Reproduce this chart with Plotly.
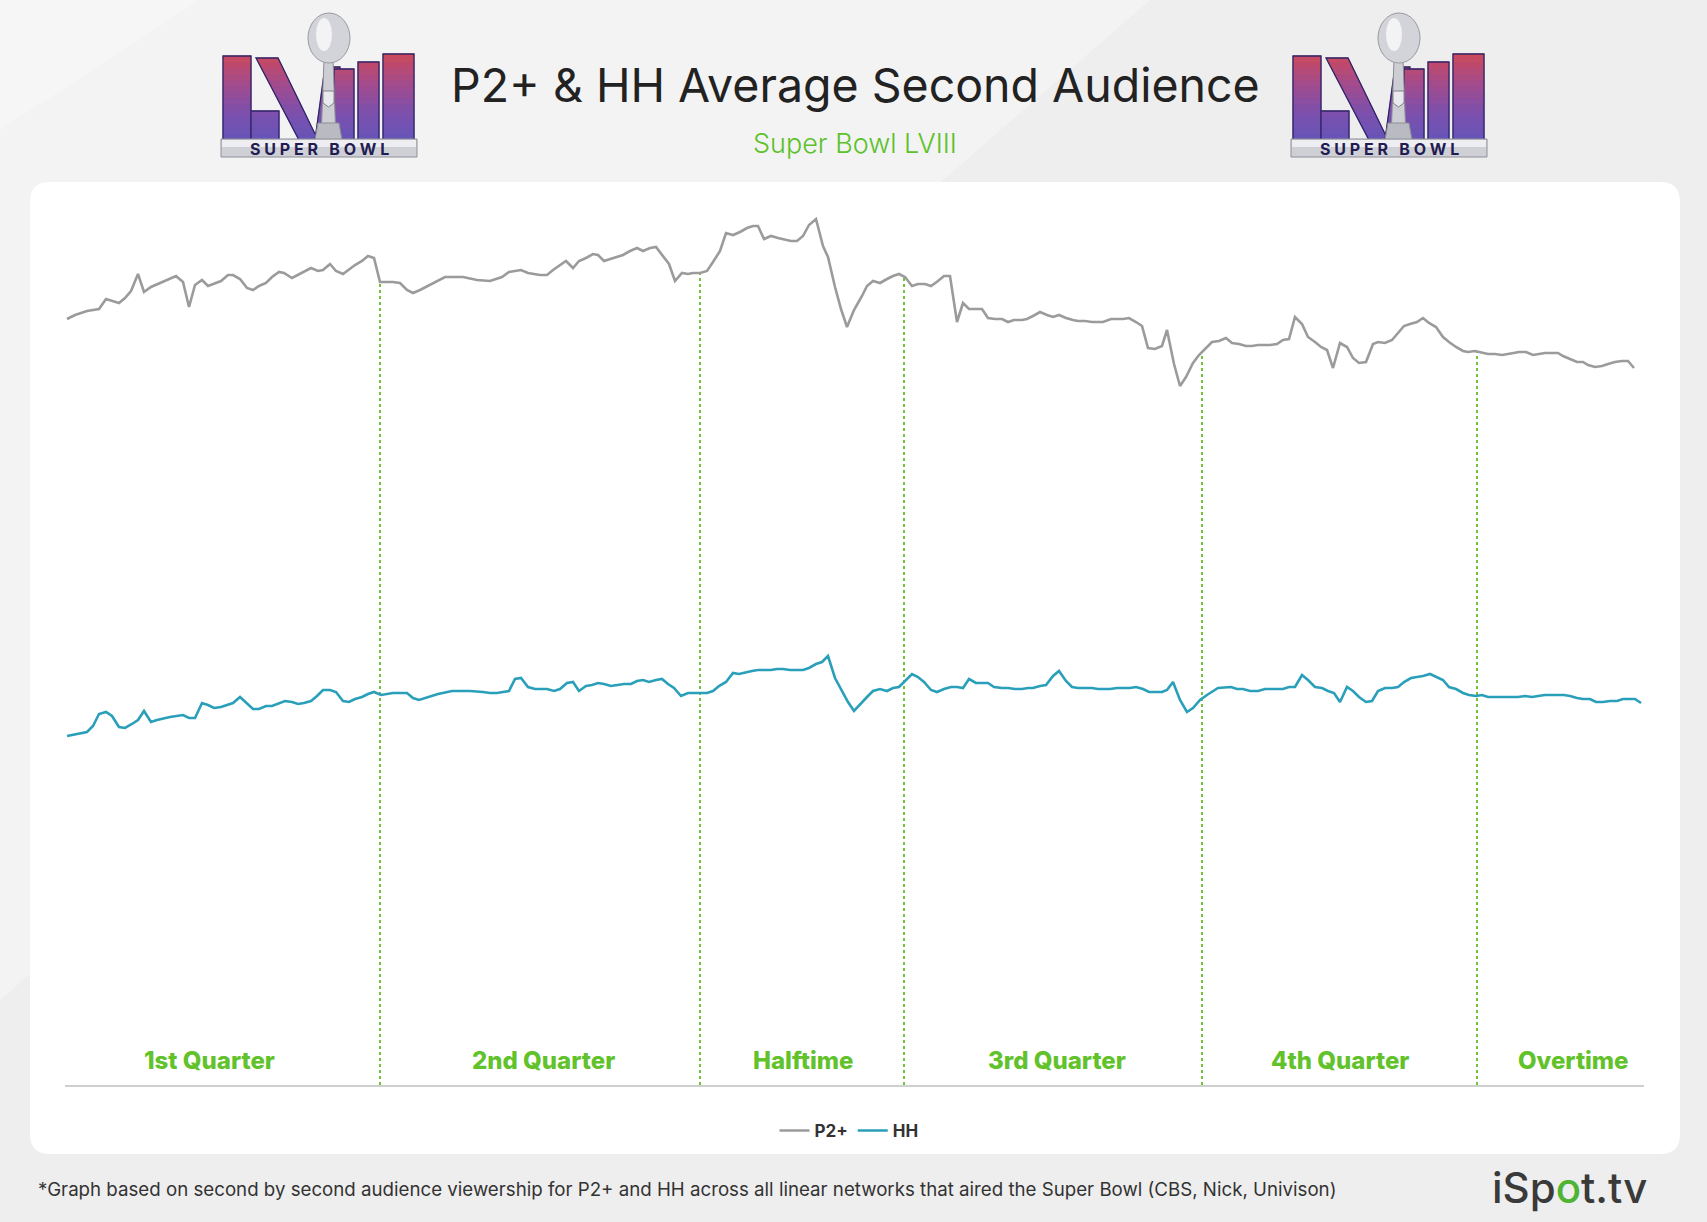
import numpy as np
import plotly.graph_objects as go

W, H = 1707, 1222

# ---------------- data (minutes of broadcast, audience in millions) ----------------
p2_time = [
    0.2, 1.0, 2.2, 3.4, 4.1, 4.8, 5.4, 6.0, 6.6, 7.3,
    7.9, 8.6, 9.7, 10.5, 11.1, 11.8, 12.4, 13.0, 13.7, 14.3,
    15.6, 16.3, 16.8, 17.5, 18.2, 18.8, 19.4, 20.1, 20.7, 21.4,
    21.9, 22.7, 23.3, 24.6, 25.3, 25.8, 26.5, 27.1, 27.8, 28.3,
    29.0, 29.7, 30.3, 30.9, 31.5, 32.8, 33.5, 34.2, 34.8, 35.5,
    36.7, 38.0, 39.8, 41.2, 42.5, 43.7, 44.4, 45.6, 46.3, 47.5,
    48.2, 48.8, 50.1, 50.8, 51.4, 52.1, 52.8, 53.3, 53.9, 55.2,
    55.8, 56.5, 57.2, 57.8, 58.5, 59.1, 59.8, 60.4, 61.0, 61.7,
    62.3, 62.8, 63.5, 64.2, 64.8, 65.5, 66.1, 66.8, 67.5, 68.2,
    68.8, 69.3, 69.9, 70.6, 71.3, 72.0, 72.6, 73.2, 73.8, 74.4,
    75.1, 75.8, 76.3, 77.0, 77.6, 78.2, 78.9, 79.7, 80.2, 80.8,
    81.5, 82.2, 82.8, 83.4, 84.0, 84.7, 85.3, 86.0, 86.6, 87.3,
    87.9, 88.5, 89.2, 89.8, 90.4, 91.7, 92.3, 93.0, 93.7, 94.3,
    94.9, 95.7, 96.2, 96.8, 97.5, 98.2, 98.8, 99.4, 100.1, 100.8,
    101.3, 102.0, 102.7, 103.8, 104.6, 105.8, 106.4, 107.1, 107.7, 108.3,
    109.0, 109.7, 110.2, 110.9, 111.5, 112.1, 112.8, 113.4, 114.1, 114.7,
    115.4, 116.1, 116.7, 117.4, 118.1, 118.7, 119.3, 120.5, 121.2, 121.8,
    122.4, 123.0, 123.7, 124.3, 125.0, 125.6, 126.2, 126.8, 127.5, 128.2,
    128.8, 129.4, 130.1, 130.8, 131.3, 132.0, 132.7, 133.3, 133.9, 134.5,
    135.2, 135.8, 136.4, 137.1, 137.8, 138.4, 139.1, 139.8, 140.3, 141.0,
    141.7, 142.3, 143.0, 143.7, 144.3, 145.4, 146.1, 146.8, 148.0, 149.3,
    149.8, 150.5, 151.2, 151.8, 152.3, 153.0, 153.7, 154.3, 155.0, 155.7, 156.3, 156.9,
]
p2_audience = [
    76.6, 77.0, 77.4, 77.6, 78.6, 78.4, 78.2, 78.7, 79.4, 81.1,
    79.3, 79.8, 80.3, 80.7, 80.9, 80.3, 77.8, 80.0, 80.5, 79.9,
    80.4, 81.0, 81.0, 80.6, 79.7, 79.5, 79.9, 80.2, 80.8, 81.3,
    81.2, 80.7, 81.0, 81.7, 81.4, 81.5, 82.1, 81.4, 81.1, 81.5,
    82.0, 82.4, 82.9, 82.7, 80.3, 80.3, 80.2, 79.5, 79.2, 79.5,
    80.1, 80.8, 80.8, 80.5, 80.4, 80.8, 81.3, 81.5, 81.2, 81.0,
    81.0, 81.5, 82.4, 81.7, 82.4, 82.7, 83.1, 83.0, 82.4, 82.8,
    83.0, 83.4, 83.7, 83.4, 83.7, 83.8, 82.9, 82.1, 80.4, 81.2,
    81.1, 81.2, 81.2, 81.4, 82.3, 83.4, 85.2, 85.0, 85.3, 85.7,
    85.9, 85.9, 84.6, 84.9, 84.7, 84.5, 84.4, 84.4, 84.9, 86.0,
    86.6, 83.9, 82.8, 79.8, 77.6, 75.8, 77.5, 78.9, 79.9, 80.4,
    80.2, 80.6, 80.9, 81.1, 80.8, 79.9, 80.1, 80.1, 79.9, 80.4,
    80.9, 80.9, 76.3, 78.2, 77.6, 77.6, 76.7, 76.6, 76.6, 76.3,
    76.5, 76.5, 76.6, 76.9, 77.3, 77.0, 76.8, 77.0, 76.7, 76.5,
    76.4, 76.4, 76.3, 76.3, 76.6, 76.6, 76.7, 76.3, 75.9, 73.7,
    73.6, 73.9, 75.5, 72.1, 69.9, 70.8, 72.2, 73.0, 73.7, 74.3,
    74.4, 74.7, 74.2, 74.1, 73.9, 73.9, 74.0, 74.0, 74.1, 74.5,
    74.6, 76.8, 76.1, 74.8, 74.3, 73.8, 73.5, 71.7, 74.2, 73.8,
    72.7, 72.2, 72.3, 74.1, 74.3, 74.2, 74.5, 75.2, 75.9, 76.1,
    76.3, 76.7, 76.2, 75.8, 74.8, 74.3, 73.8, 73.4, 73.3, 73.4,
    73.2, 73.1, 73.1, 73.0, 73.1, 73.3, 73.3, 73.0, 73.2, 73.2,
    72.9, 72.6, 72.3, 72.3, 72.0, 71.8, 71.9, 72.1, 72.3, 72.4, 72.4, 71.7,
]
hh_time = [
    0.2, 1.2, 2.2, 2.8, 3.4, 4.1, 4.7, 5.4, 6.0, 6.7,
    7.3, 7.9, 8.6, 9.2, 10.5, 11.8, 12.4, 13.0, 13.7, 14.3,
    14.9, 15.6, 16.2, 16.8, 17.5, 18.2, 18.8, 19.4, 20.1, 20.7,
    21.4, 22.0, 22.7, 23.3, 23.9, 24.6, 25.2, 25.8, 26.5, 27.1,
    27.8, 28.4, 29.0, 29.7, 30.3, 30.9, 31.6, 32.8, 34.2, 34.8,
    35.4, 36.1, 37.3, 38.7, 40.5, 41.8, 42.5, 43.2, 44.4, 45.0,
    45.6, 46.3, 47.0, 48.2, 48.9, 49.5, 50.2, 50.8, 51.4, 52.1,
    52.7, 53.3, 53.9, 54.6, 55.3, 55.9, 56.6, 57.2, 57.8, 58.4,
    59.1, 59.7, 60.3, 60.9, 61.6, 62.3, 63.5, 64.2, 64.8, 65.4,
    66.1, 66.8, 67.4, 68.1, 68.7, 69.3, 70.6, 71.2, 71.8, 72.5,
    73.8, 74.4, 75.1, 75.7, 76.3, 77.0, 77.7, 78.3, 78.9, 79.6,
    80.2, 80.8, 81.5, 82.2, 82.8, 83.4, 84.0, 84.7, 85.3, 85.9,
    86.6, 87.2, 87.9, 88.6, 89.2, 89.8, 90.4, 91.1, 92.3, 92.9,
    93.7, 94.3, 95.0, 95.7, 96.3, 96.8, 97.5, 98.1, 98.8, 99.4,
    100.1, 100.7, 101.3, 102.7, 103.3, 104.5, 105.2, 106.5, 107.1, 107.8,
    108.4, 109.7, 110.2, 110.8, 111.5, 112.2, 112.8, 113.5, 114.2, 115.3,
    116.6, 117.2, 117.8, 118.5, 119.3, 120.0, 121.0, 121.8, 122.4, 123.0,
    123.7, 124.3, 125.0, 125.7, 126.3, 126.9, 127.5, 128.2, 128.8, 129.4,
    130.1, 130.7, 131.3, 132.0, 132.7, 133.3, 133.9, 134.6, 135.2, 135.8,
    136.5, 137.1, 137.8, 138.4, 139.1, 139.8, 140.4, 141.1, 141.7, 142.3,
    145.3, 146.0, 146.7, 147.3, 148.0, 149.9, 150.5, 151.2, 151.8, 152.5,
    153.1, 153.8, 154.5, 155.2, 155.8, 157.0, 157.6,
]
hh_audience = [
    34.9, 35.1, 35.3, 35.9, 37.1, 37.3, 36.9, 35.8, 35.7, 36.1,
    36.5, 37.4, 36.3, 36.5, 36.8, 37.0, 36.7, 36.7, 38.2, 38.0,
    37.7, 37.8, 38.0, 38.2, 38.8, 38.1, 37.6, 37.6, 37.9, 37.9,
    38.2, 38.4, 38.3, 38.1, 38.2, 38.4, 38.9, 39.5, 39.5, 39.3,
    38.4, 38.3, 38.6, 38.8, 39.1, 39.3, 39.0, 39.2, 39.2, 38.7,
    38.5, 38.7, 39.1, 39.4, 39.4, 39.3, 39.2, 39.2, 39.4, 40.6,
    40.7, 39.8, 39.6, 39.6, 39.4, 39.6, 40.2, 40.3, 39.4, 39.9,
    40.0, 40.2, 40.1, 39.9, 40.0, 40.1, 40.1, 40.4, 40.5, 40.3,
    40.5, 40.6, 40.1, 39.7, 38.9, 39.2, 39.2, 39.2, 39.4, 39.9,
    40.3, 41.2, 41.1, 41.3, 41.4, 41.5, 41.5, 41.6, 41.6, 41.5,
    41.5, 41.7, 42.1, 42.3, 42.9, 40.7, 39.4, 38.3, 37.4, 38.2,
    38.8, 39.4, 39.6, 39.4, 39.7, 39.8, 40.4, 41.1, 40.8, 40.3,
    39.5, 39.3, 39.6, 39.8, 39.8, 39.7, 40.6, 40.2, 40.2, 39.8,
    39.7, 39.7, 39.6, 39.6, 39.7, 39.7, 39.9, 40.0, 40.9, 41.4,
    40.4, 39.8, 39.7, 39.7, 39.6, 39.6, 39.7, 39.7, 39.8, 39.6,
    39.3, 39.3, 39.5, 40.3, 38.5, 37.3, 37.7, 38.5, 39.0, 39.7,
    39.8, 39.6, 39.6, 39.4, 39.4, 39.6, 39.6, 39.6, 39.8, 39.8,
    41.0, 40.5, 39.8, 39.7, 39.4, 39.2, 38.3, 39.8, 39.4, 38.8,
    38.3, 38.4, 39.4, 39.7, 39.7, 39.8, 40.3, 40.7, 40.8, 40.9,
    41.1, 40.8, 40.5, 39.8, 39.6, 39.2, 39.0, 38.9, 39.0, 38.8,
    38.8, 38.9, 38.8, 38.9, 39.0, 39.0, 38.9, 38.7, 38.6, 38.6,
    38.3, 38.3, 38.4, 38.4, 38.6, 38.6, 38.2,
]
period_labels = ["1st Quarter", "2nd Quarter", "Halftime", "3rd Quarter", "4th Quarter", "Overtime"]
period_label_time = [14.4, 47.8, 73.8, 99.2, 127.5, 150.8]
period_boundaries = [31.5, 63.5, 83.9, 113.7, 141.2]

assert len(p2_time) == len(p2_audience), (len(p2_time), len(p2_audience))
assert len(hh_time) == len(hh_audience), (len(hh_time), len(hh_audience))

# ---------------- styling ----------------
FONT = "Inter"
GREEN = "#62c22b"
GRAY_LINE = "#9b9b9b"
TEAL = "#2a9fba"

# plot area in pixels
PL, PR, PT, PB = 65, 1644, 195, 1085


def px(x):
    return x / W


def py(y):
    return 1 - y / H


def path_of(pts):
    return "M " + " L ".join(f"{px(x):.5f},{py(y):.5f}" for x, y in pts) + " Z"


def rounded_rect(x0, y0, x1, y1, r):
    d = (f"M {px(x0 + r):.5f},{py(y0):.5f} L {px(x1 - r):.5f},{py(y0):.5f} "
         f"Q {px(x1):.5f},{py(y0):.5f} {px(x1):.5f},{py(y0 + r):.5f} "
         f"L {px(x1):.5f},{py(y1 - r):.5f} "
         f"Q {px(x1):.5f},{py(y1):.5f} {px(x1 - r):.5f},{py(y1):.5f} "
         f"L {px(x0 + r):.5f},{py(y1):.5f} "
         f"Q {px(x0):.5f},{py(y1):.5f} {px(x0):.5f},{py(y1 - r):.5f} "
         f"L {px(x0):.5f},{py(y0 + r):.5f} "
         f"Q {px(x0):.5f},{py(y0):.5f} {px(x0 + r):.5f},{py(y0):.5f} Z")
    return d


shapes = []
annotations = []

# background soft light diagonals
shapes.append(dict(type="path", xref="paper", yref="paper", layer="below",
                   path=path_of([(0, 0), (1150, 0), (0, 1000)]),
                   fillcolor="#f3f3f3", line=dict(width=0)))
shapes.append(dict(type="path", xref="paper", yref="paper", layer="below",
                   path=path_of([(0, 0), (200, 0), (0, 130)]),
                   fillcolor="#f6f6f6", line=dict(width=0)))
# white card
shapes.append(dict(type="path", xref="paper", yref="paper", layer="below",
                   path=rounded_rect(30, 182, 1680, 1154, 20),
                   fillcolor="#ffffff", line=dict(width=0)))

# ---------------- logos ----------------
STOPS = [(40, (0xd2, 0x4a, 0x55)), (72, (0xa5, 0x4b, 0x8a)), (100, (0x7e, 0x50, 0xab)),
         (130, (0x66, 0x54, 0xb8))]


def band_color(v):
    for (v0, c0), (v1, c1) in zip(STOPS[:-1], STOPS[1:]):
        if v <= v1:
            t = max(0.0, (v - v0) / (v1 - v0))
            c = [round(a + (b - a) * t) for a, b in zip(c0, c1)]
            return "rgb({},{},{})".format(*c)
    return "rgb({},{},{})".format(*STOPS[-1][1])


BAND_EDGES = list(range(40, 134, 6))
BANDS = [(a, b, band_color((a + b) / 2)) for a, b in zip(BAND_EDGES[:-1], BAND_EDGES[1:])]
BANDS[0] = (0, BANDS[0][1], BANDS[0][2])

LETTERS = [
    (45, 129, 2, 30, 2, 30),
    (100, 129, 30, 58, 30, 58),
    (47, 129, 35, 57, 78, 97),
    (56, 129, 104, 119, 94, 110),
    (58, 129, 113, 133, 113, 133),
    (51, 129, 137, 158, 137, 158),
    (43, 129, 162, 193, 162, 193),
]


def add_logo(ox, oy):
    def P(u, v):
        return (ox + u, oy + v)

    for vt, vb, ult, urt, ulb, urb in LETTERS:
        def edge(a, b, v):
            return a + (b - a) * (v - vt) / (vb - vt)
        for b0, b1, col in BANDS:
            a, b = max(vt, b0), min(vb, b1)
            if a >= b:
                continue
            pts = [P(edge(ult, ulb, a), a), P(edge(urt, urb, a), a),
                   P(edge(urt, urb, b), b), P(edge(ult, ulb, b), b)]
            shapes.append(dict(type="path", xref="paper", yref="paper", layer="above",
                               path=path_of(pts), fillcolor=col,
                               line=dict(color=col, width=0.8)))
        shapes.append(dict(type="path", xref="paper", yref="paper", layer="above",
                           path=path_of([P(ult, vt), P(urt, vt), P(urb, vb), P(ulb, vb)]),
                           fillcolor="rgba(0,0,0,0)", line=dict(color="#2f2568", width=1.3)))
    # trophy stem and base
    shapes.append(dict(type="path", xref="paper", yref="paper", layer="above",
                       path=path_of([P(103, 48), P(112, 48), P(115, 129), P(100, 129)]),
                       fillcolor="#cdced4", line=dict(color="#8e8e96", width=1)))
    shapes.append(dict(type="path", xref="paper", yref="paper", layer="above",
                       path=path_of([P(97, 112), P(118, 112), P(121, 129), P(94, 129)]),
                       fillcolor="#babbc2", line=dict(color="#8e8e96", width=1)))
    shapes.append(dict(type="path", xref="paper", yref="paper", layer="above",
                       path=path_of([P(102, 80), P(113, 80), P(113, 92), P(107.5, 96), P(102, 92)]),
                       fillcolor="#e9e9ee", line=dict(color="#6c6c78", width=0.8)))
    # football
    x0, y0 = P(87, 2)
    x1, y1 = P(129, 52)
    shapes.append(dict(type="circle", xref="paper", yref="paper", layer="above",
                       x0=px(x0), x1=px(x1), y0=py(y0), y1=py(y1),
                       fillcolor="#d3d4da", line=dict(color="#9a9aa2", width=1)))
    x0, y0 = P(95, 7)
    x1, y1 = P(111, 40)
    shapes.append(dict(type="circle", xref="paper", yref="paper", layer="above",
                       x0=px(x0), x1=px(x1), y0=py(y0), y1=py(y1),
                       fillcolor="#f3f3f6", line=dict(width=0)))
    # banner
    shapes.append(dict(type="path", xref="paper", yref="paper", layer="above",
                       path=path_of([P(0, 128), P(196, 128), P(196, 146), P(0, 146)]),
                       fillcolor="#cfd0d6", line=dict(color="#8f9098", width=1)))
    shapes.append(dict(type="path", xref="paper", yref="paper", layer="above",
                       path=path_of([P(1, 129), P(195, 129), P(195, 136), P(1, 136)]),
                       fillcolor="#eeeef2", line=dict(width=0)))
    bx, by = P(98, 137.5)
    annotations.append(dict(x=px(bx), y=py(by), xref="paper", yref="paper",
                            text="<b>S U P E R   B O W L</b>", showarrow=False,
                            xanchor="center", yanchor="middle",
                            font=dict(family=FONT, size=16, color="#221c52")))


add_logo(221, 11)
add_logo(1291, 11)

# ---------------- traces ----------------
fig = go.Figure()

bx, by = [], []
for b in period_boundaries:
    top = float(np.interp(b, p2_time, p2_audience))
    bx += [b, b, None]
    by += [0, top, None]
fig.add_trace(go.Scatter(x=bx, y=by, mode="lines", showlegend=False, hoverinfo="skip",
                         line=dict(color="#74c23a", width=2, dash="dot")))

fig.add_trace(go.Scatter(x=p2_time, y=p2_audience, mode="lines", name="P2+",
                         line=dict(color=GRAY_LINE, width=2.6)))
fig.add_trace(go.Scatter(x=hh_time, y=hh_audience, mode="lines", name="HH",
                         line=dict(color=TEAL, width=2.6)))

for lab, t in zip(period_labels, period_label_time):
    annotations.append(dict(x=t, y=2.5, xref="x", yref="y", text=lab, showarrow=False,
                            xanchor="center", yanchor="middle",
                            font=dict(family=FONT, size=24, color=GREEN, weight=800)))

annotations += [
    dict(x=px(855), y=py(85), xref="paper", yref="paper",
         text="P2+ & HH Average Second Audience", showarrow=False,
         xanchor="center", yanchor="middle",
         font=dict(family=FONT, size=46.5, color="#222222")),
    dict(x=px(855), y=py(143), xref="paper", yref="paper",
         text="Super Bowl LVIII", showarrow=False, xanchor="center", yanchor="middle",
         font=dict(family=FONT, size=27, color="#5cc12a", weight=300)),
    dict(x=px(36), y=py(1189), xref="paper", yref="paper",
         text="*Graph based on second by second audience viewership for P2+ and HH across "
              "all linear networks that aired the Super Bowl (CBS, Nick, Univison)",
         showarrow=False, xanchor="left", yanchor="middle",
         font=dict(family=FONT, size=18.7, color="#333333")),
    dict(x=px(1649), y=py(1187), xref="paper", yref="paper",
         text="iSp<span style='color:#4fb433'>o</span>t.tv", showarrow=False,
         xanchor="right", yanchor="middle",
         font=dict(family=FONT, size=42, color="#3a3a3a", weight=500)),
]

fig.update_layout(
    width=W, height=H, autosize=False,
    margin=dict(l=0, r=0, t=0, b=0, pad=0),
    paper_bgcolor="#eeeeee",
    plot_bgcolor="rgba(0,0,0,0)",
    font=dict(family=FONT, color="#333333"),
    showlegend=True,
    legend=dict(orientation="h", x=px(849), xanchor="center", y=py(1131), yanchor="middle",
                font=dict(family=FONT, size=17, color="#333333", weight=700),
                bgcolor="rgba(0,0,0,0)", itemwidth=30),
    xaxis=dict(domain=[px(PL), px(PR)], range=[0, 157.9], showgrid=False, zeroline=False,
               showticklabels=False, ticks="", showline=True, linecolor="#cfcfcf", linewidth=2,
               fixedrange=True),
    yaxis=dict(domain=[py(PB), py(PT)], range=[0, 89], visible=False, fixedrange=True),
    shapes=shapes,
    annotations=annotations,
)

fig.write_html("out.html", config={"displayModeBar": False},
               post_script="document.body.style.margin='0px';document.body.style.overflow='hidden';")
